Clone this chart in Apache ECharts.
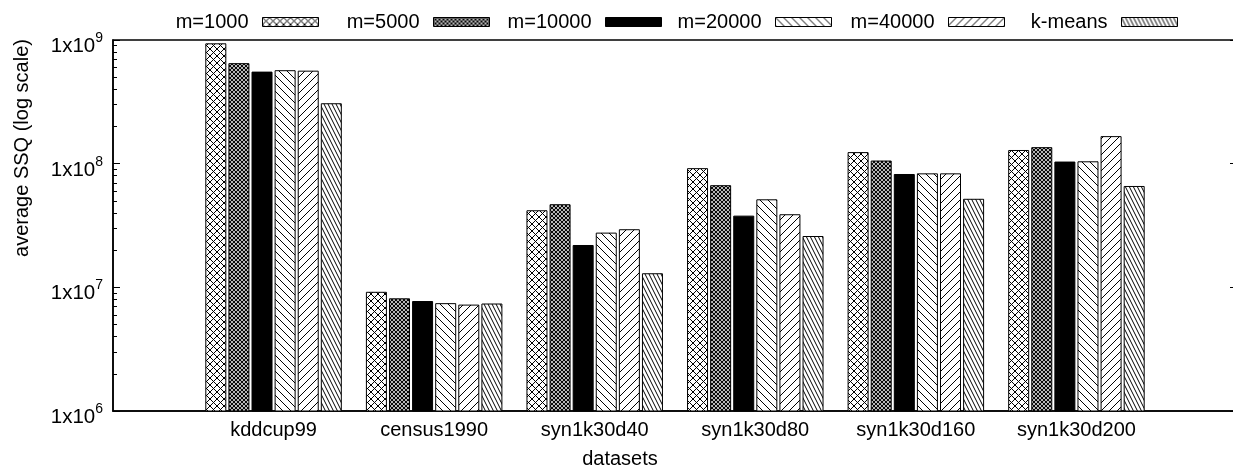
<!DOCTYPE html>
<html>
<head>
<meta charset="utf-8">
<script src="https://cdn.jsdelivr.net/npm/echarts@6/dist/echarts.min.js"></script>
<style>
  html, body { margin: 0; padding: 0; background: #fff; }
  #chart { width: 1233px; height: 471px; }
</style>
</head>
<body>
<div id="chart"></div>
<script>
// Datasets on the x axis
const categories = ['kddcup99', 'census1990', 'syn1k30d40', 'syn1k30d80', 'syn1k30d160', 'syn1k30d200'];
// Series names (coreset sizes and plain k-means)
const seriesNames = ['m=1000', 'm=5000', 'm=10000', 'm=20000', 'm=40000', 'k-means'];
// Average SSQ per dataset
const m1000  = [9.4e8, 9.2e6, 4.2e7, 9.2e7, 1.24e8, 1.29e8];
const m5000  = [6.5e8, 8.15e6, 4.7e7, 6.7e7, 1.06e8, 1.36e8];
const m10000 = [5.55e8, 7.75e6, 2.2e7, 3.8e7, 8.25e7, 1.04e8];
const m20000 = [5.7e8, 7.45e6, 2.77e7, 5.15e7, 8.35e7, 1.045e8];
const m40000 = [5.65e8, 7.25e6, 2.95e7, 3.9e7, 8.35e7, 1.67e8];
const kmeans = [3.08e8, 7.4e6, 1.3e7, 2.6e7, 5.2e7, 6.6e7];
// Log axis ticks
const yMajorTicks = [1e6, 1e7, 1e8, 1e9];
const yMinorTicks = [];
[1e6, 1e7, 1e8].forEach(d => { for (let k = 2; k <= 9; k++) yMinorTicks.push(k * d); });

const FONT = '"Liberation Sans", Arial, Helvetica, sans-serif';

// Fill patterns (black ink on white)
function tile(w, h, draw) {
  const c = document.createElement('canvas');
  c.width = w; c.height = h;
  const g = c.getContext('2d');
  g.fillStyle = '#fff';
  g.fillRect(0, 0, w, h);
  g.strokeStyle = '#000';
  g.lineWidth = 1;
  draw(g, w, h);
  return c;
}
function back(g, w, h) { // "\" direction
  g.beginPath();
  for (let k = -w; k <= w; k += w) { g.moveTo(k, 0); g.lineTo(k + w, h); }
  g.stroke();
}
function fwd(g, w, h) { // "/" direction
  g.beginPath();
  for (let k = -w; k <= w; k += w) { g.moveTo(k + w, 0); g.lineTo(k, h); }
  g.stroke();
}
const patterns = [
  { image: tile(7, 7, (g, w, h) => { back(g, w, h); fwd(g, w, h); }), repeat: 'repeat' },
  { image: tile(4, 4, (g, w, h) => { g.lineWidth = 1.1; back(g, w, h); fwd(g, w, h); }), repeat: 'repeat' },
  '#000',
  { image: tile(8, 8, back), repeat: 'repeat' },
  { image: tile(8, 8, fwd), repeat: 'repeat' },
  { image: tile(4, 8, back), repeat: 'repeat' }
];

const values = [m1000, m5000, m10000, m20000, m40000, kmeans];
const axisCats = [''].concat(categories, ['']);

const series = seriesNames.map((name, i) => ({
  name: name,
  type: 'bar',
  yAxisIndex: 0,
  barWidth: 21,
  barGap: '10%',
  data: [null].concat(values[i], [null]),
  itemStyle: { color: patterns[i], borderColor: '#000', borderWidth: 1 },
  emphasis: { disabled: true },
  animation: false
}));

// One legend block per series, text on the left of its swatch
const swatchRight = [319, 490, 662, 832, 1005, 1178];
const legends = seriesNames.map((name, i) => ({
  data: [name],
  align: 'right',
  right: 1233 - swatchRight[i],
  top: 12,
  padding: 0,
  itemWidth: 56,
  itemHeight: 9,
  icon: 'rect',
  selectedMode: false,
  itemStyle: { borderColor: '#000', borderWidth: 1 },
  textStyle: { fontFamily: FONT, fontSize: 20, color: '#000', padding: [0, 9, 0, 0] }
}));

const chart = echarts.init(document.getElementById('chart'), null, { renderer: 'canvas' });
chart.setOption({
  animation: false,
  backgroundColor: '#fff',
  legend: legends,
  grid: {
    left: 113, width: 1124, top: 40, height: 371,
    outerBoundsMode: 'none',
    show: true, borderColor: '#000', borderWidth: 1.5, backgroundColor: 'transparent',
    containLabel: false
  },
  xAxis: {
    type: 'category',
    data: axisCats,
    boundaryGap: false,
    axisLine: { show: true, lineStyle: { color: '#000', width: 1.5 } },
    axisTick: { show: false },
    splitLine: { show: false },
    axisLabel: { fontFamily: FONT, fontSize: 20, color: '#000', margin: 9, interval: 0 }
  },
  yAxis: [
    {
      type: 'log', logBase: 10, min: 1e6, max: 1e9, position: 'left',
      axisLine: { show: true, lineStyle: { color: '#000', width: 1.5 } },
      axisTick: { show: true, inside: true, length: 7, customValues: yMajorTicks, lineStyle: { color: '#000', width: 1 } },
      splitLine: { show: false },
      axisLabel: {
        customValues: yMajorTicks,
        margin: 10,
        padding: [14, 0, 0, 0],
        formatter: v => '{a|1x10}{s|' + Math.round(Math.log10(v)) + '}',
        rich: {
          a: { fontFamily: FONT, fontSize: 20.5, color: '#000', verticalAlign: 'bottom', lineHeight: 20 },
          s: { fontFamily: FONT, fontSize: 14, color: '#000', verticalAlign: 'bottom', lineHeight: 14, padding: [4, 0, 12, 0] }
        }
      }
    },
    {
      type: 'log', logBase: 10, min: 1e6, max: 1e9, position: 'left',
      axisLine: { show: false },
      axisTick: { show: true, inside: true, length: 4, customValues: yMinorTicks, lineStyle: { color: '#000', width: 1 } },
      axisLabel: { show: false },
      splitLine: { show: false }
    },
    {
      type: 'log', logBase: 10, min: 1e6, max: 1e9, position: 'right',
      axisLine: { show: true, lineStyle: { color: '#000', width: 1.5 } },
      axisTick: { show: true, inside: true, length: 7, customValues: yMajorTicks, lineStyle: { color: '#000', width: 1 } },
      axisLabel: { show: false },
      splitLine: { show: false }
    }
  ],
  graphic: [
    {
      type: 'text', x: 22, y: 148, rotation: Math.PI / 2,
      style: { text: 'average SSQ (log scale)', fontFamily: FONT, fontSize: 20, fill: '#000', textAlign: 'center', textVerticalAlign: 'middle' }
    },
    {
      type: 'text', x: 620, y: 459,
      style: { text: 'datasets', fontFamily: FONT, fontSize: 20, fill: '#000', textAlign: 'center', textVerticalAlign: 'middle' }
    }
  ],
  series: series
});
</script>
</body>
</html>
